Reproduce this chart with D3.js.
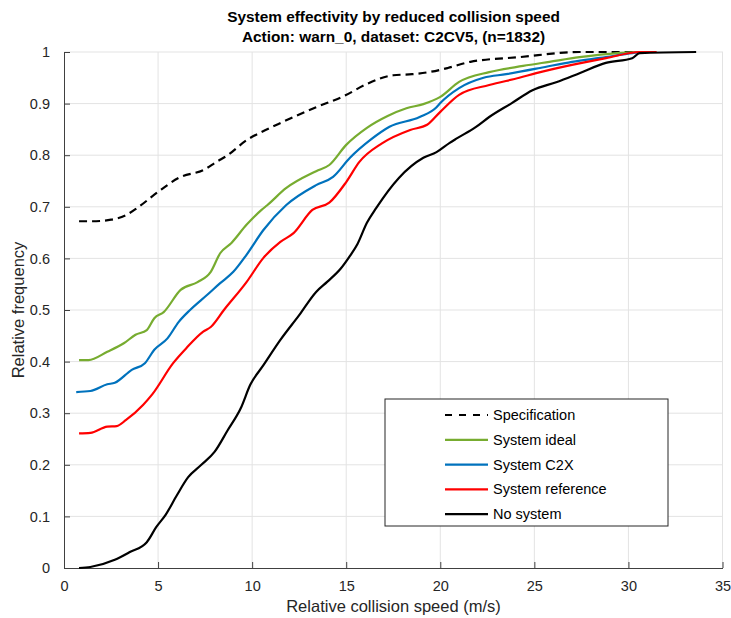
<!DOCTYPE html>
<html>
<head>
<meta charset="utf-8">
<script src="https://d3js.org/d3.v7.min.js"></script>
<style>
  body { margin: 0; background: #fff; }
  text { font-family: "Liberation Sans", Arial, Helvetica, sans-serif; }
</style>
</head>
<body>
<div id="chart"></div>
<script>
// series: [speed (m/s), relative frequency]
const specification = [[0.8,0.672],[1.5,0.672],[2.5,0.675],[3.3,0.684],[3.9,0.698],[5.0,0.729],[6.1,0.756],[7.5,0.773],[8.1,0.787],[8.7,0.80],[9.7,0.829],[10.5,0.845],[11.6,0.864],[13.4,0.893],[14.9,0.915],[16.1,0.938],[17.5,0.955],[18.5,0.957],[19.4,0.961],[20.4,0.969],[21.6,0.981],[24.2,0.990],[27.4,1.0],[30.5,1.0]];
const systemIdeal = [[0.8,0.403],[1.3,0.403],[2.3,0.419],[3.2,0.436],[3.8,0.452],[4.4,0.461],[4.8,0.484],[5.3,0.496],[6.2,0.539],[7.1,0.554],[7.8,0.574],[8.3,0.610],[8.9,0.630],[9.7,0.665],[10.5,0.694],[10.8,0.703],[11.8,0.736],[13.4,0.769],[14.1,0.781],[15.0,0.820],[16.1,0.853],[17.2,0.876],[18.2,0.891],[19.1,0.899],[20.0,0.913],[21.0,0.942],[22.6,0.961],[24.4,0.973],[25.8,0.981],[27.4,0.990],[29.4,0.998],[30.6,1.0]];
const systemC2X = [[0.65,0.341],[1.4,0.343],[2.3,0.356],[2.7,0.359],[3.6,0.384],[4.3,0.397],[4.8,0.423],[5.5,0.445],[6.1,0.477],[6.7,0.50],[7.6,0.529],[8.3,0.552],[9.0,0.574],[9.7,0.607],[10.6,0.655],[11.8,0.703],[13.4,0.742],[14.3,0.758],[15.2,0.795],[16.3,0.83],[17.3,0.855],[18.9,0.874],[19.8,0.893],[20.0,0.901],[21.0,0.930],[22.3,0.950],[23.5,0.957],[25.3,0.969],[27.0,0.981],[28.8,0.99],[30.2,0.998],[31.0,1.0]];
const systemReference = [[0.8,0.261],[1.4,0.262],[2.3,0.274],[2.8,0.275],[3.3,0.287],[4.2,0.316],[4.7,0.337],[5.8,0.397],[6.5,0.426],[7.4,0.458],[7.8,0.467],[8.5,0.50],[9.7,0.554],[10.6,0.601],[11.5,0.632],[12.2,0.649],[13.2,0.694],[14.1,0.708],[15.0,0.748],[15.7,0.787],[16.9,0.823],[18.4,0.849],[19.3,0.859],[20.0,0.884],[21.0,0.917],[22.6,0.936],[24.2,0.950],[25.1,0.959],[27.0,0.975],[28.8,0.988],[30.6,1.0],[31.5,1.0]];
const noSystem = [[0.8,0.0],[1.4,0.002],[2.7,0.016],[3.5,0.031],[4.4,0.05],[4.9,0.079],[5.4,0.103],[6.0,0.141],[6.6,0.176],[7.3,0.20],[8.0,0.225],[8.7,0.267],[9.4,0.31],[9.9,0.355],[10.6,0.393],[11.5,0.442],[12.5,0.49],[13.4,0.535],[14.0,0.555],[14.7,0.58],[15.2,0.605],[15.6,0.628],[16.1,0.669],[16.6,0.698],[17.8,0.756],[19.1,0.795],[19.8,0.806],[20.5,0.824],[20.9,0.833],[21.9,0.855],[22.6,0.874],[23.8,0.901],[24.9,0.926],[26.2,0.942],[27.4,0.959],[28.8,0.979],[30.2,0.988],[30.6,0.998],[33.6,1.0]];

const seriesNames = ["Specification", "System ideal", "System C2X", "System reference", "No system"];
const seriesColors = ["#000000", "#77AC30", "#0072BD", "#FF0000", "#000000"];
const xTicks = [0, 5, 10, 15, 20, 25, 30, 35];
const yTicks = [0, 0.1, 0.2, 0.3, 0.4, 0.5, 0.6, 0.7, 0.8, 0.9, 1];

const series = [specification, systemIdeal, systemC2X, systemReference, noSystem];

const W = 731, H = 618;
const margin = {top: 52, right: 8, bottom: 50, left: 64};
const width = W - margin.left - margin.right,
  height = H - margin.top - margin.bottom;

const svg = d3.select("#chart").append("svg")
  .attr("width", W).attr("height", H);
const g = svg.append("g")
  .attr("transform", "translate(" + margin.left + "," + margin.top + ")");

const x = d3.scaleLinear().domain([0, 35]).range([0, width - 0.5]);
const y = d3.scaleLinear().domain([0, 1]).range([height, 0]);

// grid
g.append("g").selectAll("line").data(xTicks.slice(1)).join("line")
  .attr("x1", d => x(d)).attr("x2", d => x(d))
  .attr("y1", 0).attr("y2", height)
  .attr("stroke", "#e3e3e3").attr("stroke-width", 1);
g.append("g").selectAll("line").data(yTicks.slice(1)).join("line")
  .attr("x1", 0).attr("x2", width)
  .attr("y1", d => y(d)).attr("y2", d => y(d))
  .attr("stroke", "#e3e3e3").attr("stroke-width", 1);

// axes
const xAxis = g.append("g")
  .attr("transform", "translate(0," + height + ")")
  .call(d3.axisBottom(x).tickValues(xTicks).tickSizeInner(-6).tickSizeOuter(0).tickPadding(13));
const yAxis = g.append("g")
  .call(d3.axisLeft(y).tickValues(yTicks).tickSizeInner(-6).tickSizeOuter(0).tickPadding(14)
    .tickFormat(d => d3.format("~g")(d)));
[xAxis, yAxis].forEach(a => {
  a.select(".domain").attr("stroke", "#404040").attr("stroke-width", 1);
  a.selectAll(".tick line").attr("stroke", "#404040");
  a.selectAll(".tick text").attr("fill", "#262626").style("font-size", "14.5px");
});

// lines (dashed spec first so the solids sit on top of it)
const line = d3.line().x(d => x(d[0])).y(d => y(d[1])).curve(d3.curveMonotoneX);
series.forEach((s, i) => {
  g.append("path")
    .datum(s)
    .attr("d", line)
    .attr("fill", "none")
    .attr("stroke", seriesColors[i])
    .attr("stroke-width", 2.2)
    .attr("stroke-linejoin", "round")
    .attr("stroke-dasharray", i === 0 ? "8,5" : null);
});

// titles
svg.append("text").attr("x", margin.left + width / 2).attr("y", 22)
  .attr("text-anchor", "middle").style("font-size", "15.4px").style("font-weight", "bold")
  .attr("fill", "#000").text("System effectivity by reduced collision speed");
svg.append("text").attr("x", margin.left + width / 2).attr("y", 42)
  .attr("text-anchor", "middle").style("font-size", "15.4px").style("font-weight", "bold")
  .attr("fill", "#000").text("Action: warn_0, dataset: C2CV5, (n=1832)");

svg.append("text").attr("x", margin.left + width / 2).attr("y", 612)
  .attr("text-anchor", "middle").style("font-size", "16.5px").attr("fill", "#262626")
  .text("Relative collision speed (m/s)");
svg.append("text")
  .attr("transform", "translate(24," + (margin.top + height / 2) + ") rotate(-90)")
  .attr("text-anchor", "middle").style("font-size", "16.5px").attr("fill", "#262626")
  .text("Relative frequency");

// legend
const legend = svg.append("g").attr("transform", "translate(385,399)");
legend.append("rect").attr("width", 283).attr("height", 127)
  .attr("fill", "#fff").attr("stroke", "#262626").attr("stroke-width", 1);
seriesNames.forEach((name, i) => {
  const ly = 16 + i * 24.8;
  legend.append("line").attr("x1", 60).attr("x2", 103).attr("y1", ly).attr("y2", ly)
    .attr("stroke", seriesColors[i]).attr("stroke-width", 2.2)
    .attr("stroke-dasharray", i === 0 ? "7,7" : null);
  legend.append("text").attr("x", 108).attr("y", ly + 5)
    .style("font-size", "14.5px").attr("fill", "#000").text(name);
});
</script>
</body>
</html>
